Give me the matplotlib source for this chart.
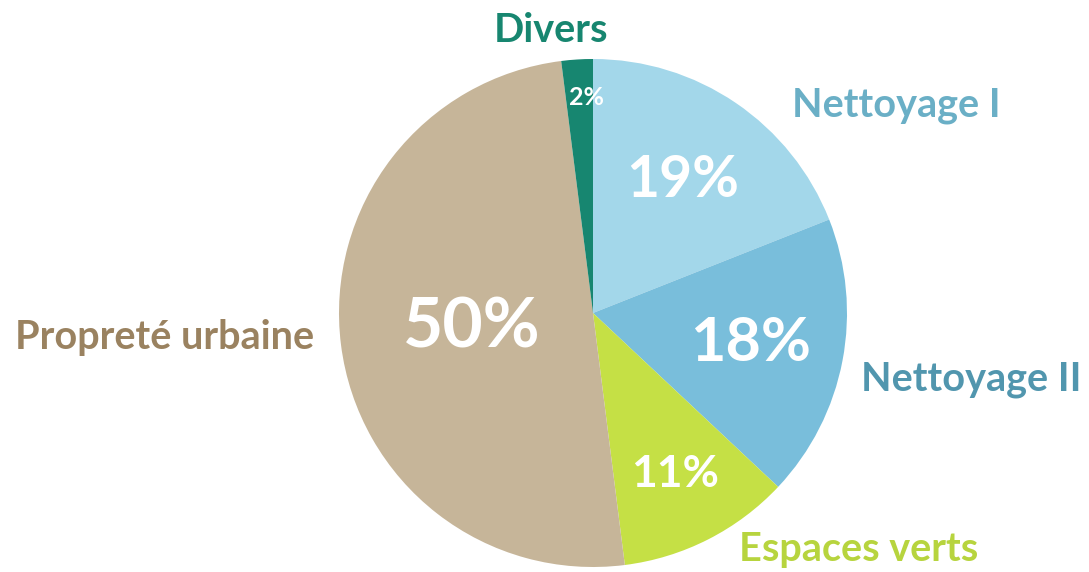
import numpy as np
import matplotlib
matplotlib.use('Agg')
from matplotlib import pyplot as plt

plt.rcParams['font.family'] = ['Lato', 'DejaVu Sans']

labels = ['Nettoyage I', 'Nettoyage II', 'Espaces verts', 'Propreté urbaine', 'Divers']
values = [19, 18, 11, 50, 2]
pct_text = ['19%', '18%', '11%', '50%', '2%']
slice_colors = ['#A3D7EA', '#79BEDB', '#C5E045', '#C6B599', '#178670']
label_colors = ['#6AAFC6', '#5196AE', '#B7D43E', '#9A8260', '#178670']

W, H = 1089, 572
cx, cy, R = 593, H - 313, 254

fig = plt.figure(figsize=(W / 100, H / 100), dpi=100)
ax = fig.add_axes([0, 0, 1, 1])
wedges, _ = ax.pie(values, colors=slice_colors, startangle=90, counterclock=False,
                   center=(cx, cy), radius=R, wedgeprops=dict(linewidth=0))
ax.set_xlim(0, W)
ax.set_ylim(0, H)
ax.set_aspect('equal')
ax.axis('off')

# percentage labels inside the slices (radial fraction, size, x nudge)
pct_frac = [0.63, 0.63, 0.71, 0.48, 0.85]
pct_size = [41, 44, 32, 50, 18]
pct_dx = [0, 0, 0, 0, 7]
for w, t, f, s, d in zip(wedges, pct_text, pct_frac, pct_size, pct_dx):
    a = np.deg2rad((w.theta1 + w.theta2) / 2)
    ax.text(cx + f * R * np.cos(a) + d, cy + f * R * np.sin(a), t, color='white',
            fontsize=s, fontweight='bold', ha='center', va='center')

# category labels around the pie
label_pos = [(896, 105), (971, 380), (859, 550), (165, 338), (551, 30)]
for t, c, (x, y) in zip(labels, label_colors, label_pos):
    ax.text(x, H - y, t, color=c, fontsize=28.5, fontweight='bold',
            ha='center', va='center')

fig.savefig('out.png', dpi=100)
